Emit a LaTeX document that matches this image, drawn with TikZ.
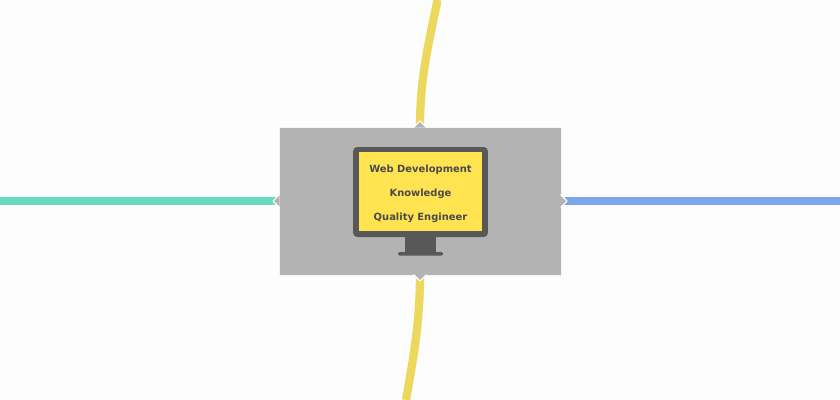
\documentclass[tikz,border=0pt]{standalone}
\usepackage{fontspec}
\setmainfont{DejaVu Sans}
\usetikzlibrary{calc}
\definecolor{pagebg}{HTML}{FDFDFD}
\definecolor{boxgrey}{HTML}{B3B3B3}
\definecolor{screengrey}{HTML}{585858}
\definecolor{screenyellow}{HTML}{FFE350}
\definecolor{lineyellow}{HTML}{ECD85C}
\definecolor{linegreen}{HTML}{68DAC0}
\definecolor{lineblue}{HTML}{7CA6EA}
\tikzset{
    branch/.style={line width=6.2pt},
    tip/.style={fill=boxgrey, draw=white, line width=0.8pt, line join=round},
    label/.style={font=\bfseries\fontsize{7.45pt}{9pt}\selectfont, text=screengrey!85!black, inner sep=0pt}
}

\begin{document}
\begin{tikzpicture}[x=0.75pt, y=-0.75pt]
\useasboundingbox[fill=pagebg] (0, 0) rectangle (840, 400);
\coordinate (topEnd) at (437.5, 0);
\coordinate (botEnd) at (406, 400);
\coordinate (leftEnd) at (0, 201);
\coordinate (rightEnd) at (840, 201);
\node[minimum width=211.5pt, minimum height=111pt, inner sep=0pt, fill=boxgrey, draw=white!85!boxgrey, line width=0.5pt] (center) at (420, 201) {};
\draw[branch, lineyellow] (topEnd) .. controls (430, 38) and (420, 75) .. (center.north);
\draw[branch, lineyellow] (botEnd) .. controls (412, 365) and (420, 325) .. (center.south);
\draw[branch, linegreen] (leftEnd) -- (center.west);
\draw[branch, lineblue] (rightEnd) -- (center.east);
\draw[tip] (413.5, 127.5) -- (420, 121) -- (426.5, 127.5);
\draw[tip] (413.5, 274.5) -- (420, 281) -- (426.5, 274.5);
\draw[tip] (279.5, 194.5) -- (273, 201) -- (279.5, 207.5);
\draw[tip] (560.5, 194.5) -- (567, 201) -- (560.5, 207.5);
\node[minimum width=101pt, minimum height=67.5pt, inner sep=0pt, fill=screengrey, rounded corners=3pt] (monitor) at (420.5, 192) {};
\node[minimum width=92pt, minimum height=59pt, inner sep=0pt, fill=screenyellow] (screen) at (420.5, 191.5) {};
\fill[screengrey] (405, 236) rectangle (436, 252);
\fill[screengrey, rounded corners=1pt] (398, 252) rectangle (443, 255.5);
\draw (420.5, 170) node[label] (web) {Web Development}
    (420.5, 194) node[label] (know) {Knowledge}
    (420.5, 218) node[label] (quality) {Quality Engineer};
\end{tikzpicture}
\end{document}
